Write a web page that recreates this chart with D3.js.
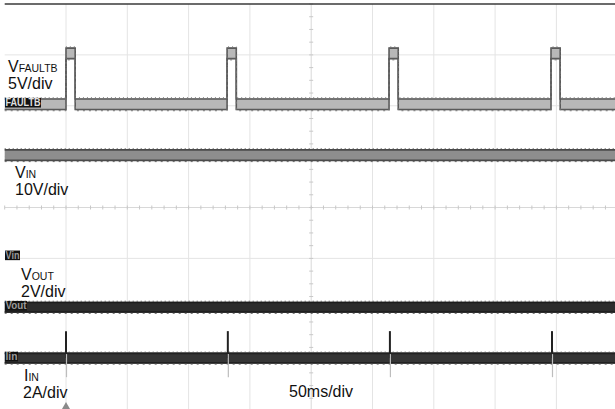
<!DOCTYPE html>
<html>
<head>
<meta charset="utf-8">
<script src="https://cdn.jsdelivr.net/npm/d3@7/dist/d3.min.js"></script>
<style>
  html, body { margin: 0; padding: 0; background: #fff; }
  svg { display: block; }
  text { font-family: "Liberation Sans", Arial, Helvetica, sans-serif; }
</style>
</head>
<body>
<svg id="chart" width="615" height="409"></svg>
<script>
// ---------------- data ----------------
const timeDomain = [0, 500];              // ms (10 div x 50 ms/div)
const divDomain = [-4, 4];                // vertical divisions
const timePerDivLabel = "50ms/div";

const channelNames   = ["FAULTB", "IN", "OUT", "IN"];
const channelPrefix  = ["V", "V", "V", "I"];
const channelScale   = ["5V/div", "10V/div", "2V/div", "2A/div"];
const channelUnitsPerDiv = [5, 10, 2, 2];
const channelOffsetDiv   = [2.03, -0.97, -1.96, -2.96];
const channelMarker  = ["FAULTB", "Vin", "Vout", "Iin"];

// FAULTB: restart pulses (hiccup)
const faultbPulseStarts = [50.0, 181.4, 313.5, 445.6];   // ms
const faultbPulseWidth  = 7.5;                            // ms
const faultbLow = 0, faultbHigh = 5;                      // V
// VIN / VOUT levels
const vinLevel  = 20;    // V
const voutLevel = 0;     // V
// IIN: baseline with spikes at each restart
const iinLevel = 0;                                       // A
const iinSpikeTimes = [50.0, 182.0, 314.2, 446.4];        // ms
const iinSpikePeak = 1.06, iinSpikeMin = -0.75;           // A

// ---------------- layout ----------------
const svg = d3.select("#chart");
const x = d3.scaleLinear().domain(timeDomain).range([4.7, 617.7]);
const yDiv = d3.scaleLinear().domain(divDomain).range([411, 4]);
const chY = i => v => yDiv(channelOffsetDiv[i] + v / channelUnitsPerDiv[i]);

// ---------------- grid ----------------
const g = svg.append("g");
const xDivs = d3.range(1, 10).map(i => timeDomain[0] + i * 50);
const yDivs = d3.range(-3, 4);
g.selectAll("line.vg").data(xDivs).join("line")
  .attr("x1", d => x(d)).attr("x2", d => x(d))
  .attr("y1", yDiv(4)).attr("y2", yDiv(-4))
  .attr("stroke", d => d === 250 ? "#d8d8d8" : "#e4e4e4").attr("stroke-width", 1);
g.selectAll("line.hg").data(yDivs).join("line")
  .attr("x1", x(0)).attr("x2", x(500))
  .attr("y1", d => yDiv(d)).attr("y2", d => yDiv(d))
  .attr("stroke", d => d === 0 ? "#d8d8d8" : "#e4e4e4").attr("stroke-width", 1);
// centre-line minor ticks
const hTicks = d3.range(0, 500.01, 10);
g.selectAll("line.ht").data(hTicks).join("line")
  .attr("x1", d => x(d)).attr("x2", d => x(d))
  .attr("y1", yDiv(0) - 2).attr("y2", yDiv(0) + 2)
  .attr("stroke", "#c8c8c8").attr("stroke-width", 1);
const vTicks = d3.range(-4, 4.01, 0.25);
g.selectAll("line.vt").data(vTicks).join("line")
  .attr("x1", x(250) - 2).attr("x2", x(250) + 2)
  .attr("y1", d => yDiv(d)).attr("y2", d => yDiv(d))
  .attr("stroke", "#c8c8c8").attr("stroke-width", 1);
// top border
g.append("line").attr("x1", x(0)).attr("x2", 615).attr("y1", yDiv(4)).attr("y2", yDiv(4))
  .attr("stroke", "#3a3a3a").attr("stroke-width", 1.5);

// ---------------- trace helper ----------------
function drawBand(points, yf, half, fill, edge, speck) {
  const area = d3.area().x(d => x(d[0]))
    .y0(d => yf(d[1]) + half).y1(d => yf(d[1]) - half).curve(d3.curveStepAfter);
  const lineTop = d3.line().x(d => x(d[0])).y(d => yf(d[1]) - half + 0.75).curve(d3.curveStepAfter);
  const lineBot = d3.line().x(d => x(d[0])).y(d => yf(d[1]) + half - 0.75).curve(d3.curveStepAfter);
  const tg = svg.append("g");
  tg.append("path").attr("d", area(points)).attr("fill", fill);
  tg.append("path").attr("d", lineTop(points)).attr("fill", "none").attr("stroke", edge).attr("stroke-width", 1.6);
  tg.append("path").attr("d", lineBot(points)).attr("fill", "none").attr("stroke", edge).attr("stroke-width", 1.6);
  const hl = d3.line().x(d => x(d[0])).curve(d3.curveStepAfter);
  tg.append("path").attr("d", hl.y(d => yf(d[1]) - half - 0.5)(points))
    .attr("fill", "none").attr("stroke", speck).attr("stroke-width", 1).attr("stroke-dasharray", "1 3");
  tg.append("path").attr("d", hl.y(d => yf(d[1]) + half + 0.5)(points))
    .attr("fill", "none").attr("stroke", speck).attr("stroke-width", 1).attr("stroke-dasharray", "2 4");
  return tg;
}

// FAULTB
const faultbPts = [[timeDomain[0], faultbLow]];
faultbPulseStarts.forEach(s => { faultbPts.push([s, faultbHigh]); faultbPts.push([s + faultbPulseWidth, faultbLow]); });
faultbPts.push([timeDomain[1], faultbLow]);
drawBand(faultbPts, chY(0), 6, "#b8b8b8", "#5a5a5a", "#777");

// VIN
drawBand([[timeDomain[0], vinLevel], [timeDomain[1], vinLevel]], chY(1), 6, "#8e8e8e", "#4a4a4a", "#666");

// VOUT
drawBand([[timeDomain[0], voutLevel], [timeDomain[1], voutLevel]], chY(2), 5.5, "#2c2c2c", "#1c1c1c", "#444");

// IIN
drawBand([[timeDomain[0], iinLevel], [timeDomain[1], iinLevel]], chY(3), 5.5, "#353535", "#222", "#555");
const yI = chY(3);
svg.append("g").selectAll("line").data(iinSpikeTimes).join("line")
  .attr("x1", d => x(d)).attr("x2", d => x(d))
  .attr("y1", yI(iinSpikePeak)).attr("y2", yI(iinLevel))
  .attr("stroke", "#222").attr("stroke-width", 2);
svg.append("g").selectAll("line").data(iinSpikeTimes).join("line")
  .attr("x1", d => x(d) + 0.5).attr("x2", d => x(d) + 0.5)
  .attr("y1", yI(iinLevel) - 4).attr("y2", yI(iinSpikeMin))
  .attr("stroke", "#bdbdbd").attr("stroke-width", 1.2);

// ---------------- channel ground markers ----------------
const markerW = [36, 15, 22, 13];
const mg = svg.append("g");
channelMarker.forEach((m, i) => {
  const yc = yDiv(channelOffsetDiv[i]) - 1.5;
  mg.append("rect").attr("x", 5).attr("y", yc - 4.8).attr("width", markerW[i]).attr("height", 9.6)
    .attr("fill", "#111");
  mg.append("text").attr("x", 5.5).attr("y", yc + 3.6).text(m)
    .attr("font-size", 10).attr("font-weight", "bold")
    .attr("textLength", markerW[i] - 1).attr("lengthAdjust", "spacingAndGlyphs")
    .attr("fill", i === 0 ? "#e0e0e0" : "#9a9a9a");
});

// ---------------- labels ----------------
const labelX = [8, 15, 21, 24];
const labelY = [72, 178, 280, 381];
const lg = svg.append("g").attr("fill", "#111");
channelNames.forEach((n, i) => {
  const t = lg.append("text").attr("x", labelX[i]).attr("y", labelY[i]).attr("font-size", 16);
  t.append("tspan").text(channelPrefix[i]);
  t.append("tspan").attr("font-size", 10.5).text(n);
  lg.append("text").attr("x", labelX[i] - (i === 3 ? 1 : 0)).attr("y", labelY[i] + 17)
    .attr("font-size", 16).text(channelScale[i]);
});
lg.append("text").attr("x", 289).attr("y", 397).attr("font-size", 16).text(timePerDivLabel);

// trigger position marker
const tx = x(faultbPulseStarts[0]);
svg.append("path").attr("d", `M${tx - 4},409 L${tx},402 L${tx + 4},409 Z`).attr("fill", "#8a8a8a");
</script>
</body>
</html>
